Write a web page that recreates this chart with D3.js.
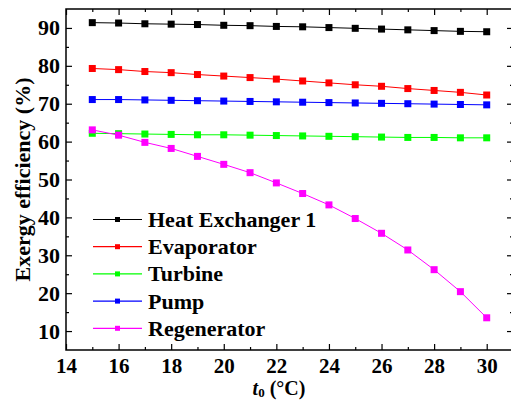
<!DOCTYPE html>
<html>
<head>
<meta charset="utf-8">
<script src="https://cdn.jsdelivr.net/npm/d3@7"></script>
<style>
  body { margin: 0; background: #fff; }
  svg { display: block; overflow: hidden; }
</style>
</head>
<body>
<svg id="chart"></svg>
<script>
// ambient temperature t0 (°C)
const temps = [15, 16, 17, 18, 19, 20, 21, 22, 23, 24, 25, 26, 27, 28, 29, 30];

// exergy efficiency (%) per component
const heatExchanger1 = [91.4, 91.3, 91.1, 91.0, 90.9, 90.7, 90.6, 90.4, 90.3, 90.1, 89.9, 89.7, 89.5, 89.3, 89.1, 89.0];
const evaporator = [79.3, 79.0, 78.5, 78.2, 77.7, 77.3, 76.9, 76.5, 76.0, 75.5, 75.0, 74.6, 74.0, 73.5, 73.0, 72.3];
const turbine = [62.2, 62.1, 62.0, 61.9, 61.8, 61.8, 61.7, 61.6, 61.5, 61.4, 61.3, 61.2, 61.1, 61.1, 61.0, 61.0];
const pump = [71.1, 71.1, 71.0, 70.9, 70.8, 70.7, 70.6, 70.5, 70.4, 70.3, 70.2, 70.1, 70.0, 69.9, 69.8, 69.7];
const regenerator = [63.1, 61.7, 59.8, 58.2, 56.1, 54.0, 51.8, 49.1, 46.3, 43.3, 39.7, 35.8, 31.4, 26.2, 20.4, 13.5];

const seriesNames = ['Heat Exchanger 1', 'Evaporator', 'Turbine', 'Pump', 'Regenerator'];
const seriesColors = ['#000000', '#ff0000', '#00ff00', '#0000ff', '#ff00ff'];
const seriesValues = [heatExchanger1, evaporator, turbine, pump, regenerator];

const xMajorTicks = [14, 16, 18, 20, 22, 24, 26, 28, 30];
const xMinorTicks = [15, 17, 19, 21, 23, 25, 27, 29, 31];
const yMajorTicks = [10, 20, 30, 40, 50, 60, 70, 80, 90];
const yMinorTicks = [15, 25, 35, 45, 55, 65, 75, 85];

const fontFamily = '"Liberation Serif", "Times New Roman", serif';

const config = {
  containerWidth: 511,
  containerHeight: 400,
  margin: {top: 9, right: -2, bottom: 50, left: 66}
};

const width = config.containerWidth - config.margin.left - config.margin.right;
const height = config.containerHeight - config.margin.top - config.margin.bottom;

const svg = d3.select('#chart')
    .attr('width', config.containerWidth)
    .attr('height', config.containerHeight)
    .attr('font-family', fontFamily);

const chart = svg.append('g')
    .attr('transform', `translate(${config.margin.left},${config.margin.top})`);

const xScale = d3.scaleLinear()
    .domain([14, 31])
    .range([0, width]);

const yScale = d3.scaleLinear()
    .domain([5, 95])
    .range([height, 0]);

// Axes: ticks point inward on all four sides
const styleAxis = (g, size = 22) => {
  g.attr('font-family', fontFamily);
  g.select('.domain').remove();
  g.selectAll('line').attr('stroke', '#000').attr('stroke-width', 1.2);
  g.selectAll('text')
      .attr('fill', '#000')
      .attr('font-size', size)
      .attr('font-weight', 'bold');
};

chart.append('g')
    .attr('transform', `translate(0,${height})`)
    .call(d3.axisBottom(xScale).tickValues(xMajorTicks).tickSizeInner(-6).tickSizeOuter(0).tickPadding(8).tickFormat(d3.format('d')))
    .call(styleAxis, 21);
chart.append('g')
    .attr('transform', `translate(0,${height})`)
    .call(d3.axisBottom(xScale).tickValues(xMinorTicks).tickSizeInner(-3).tickSizeOuter(0).tickFormat(''))
    .call(styleAxis);
chart.append('g')
    .call(d3.axisTop(xScale).tickValues(xMajorTicks).tickSizeInner(-6).tickSizeOuter(0).tickFormat(''))
    .call(styleAxis);
chart.append('g')
    .call(d3.axisTop(xScale).tickValues(xMinorTicks).tickSizeInner(-3).tickSizeOuter(0).tickFormat(''))
    .call(styleAxis);

chart.append('g')
    .call(d3.axisLeft(yScale).tickValues(yMajorTicks).tickSizeInner(-6).tickSizeOuter(0).tickPadding(6).tickFormat(d3.format('d')))
    .call(styleAxis);
chart.append('g')
    .call(d3.axisLeft(yScale).tickValues(yMinorTicks).tickSizeInner(-3).tickSizeOuter(0).tickFormat(''))
    .call(styleAxis);
chart.append('g')
    .attr('transform', `translate(${width},0)`)
    .call(d3.axisRight(yScale).tickValues(yMajorTicks).tickSizeInner(-6).tickSizeOuter(0).tickFormat(''))
    .call(styleAxis);
chart.append('g')
    .attr('transform', `translate(${width},0)`)
    .call(d3.axisRight(yScale).tickValues(yMinorTicks).tickSizeInner(-3).tickSizeOuter(0).tickFormat(''))
    .call(styleAxis);

// Frame
chart.append('rect')
    .attr('width', width)
    .attr('height', height)
    .attr('fill', 'none')
    .attr('stroke', '#000')
    .attr('stroke-width', 1.5);

// Lines and square markers
const line = d3.line()
    .x((d, i) => xScale(temps[i]))
    .y(d => yScale(d));

const marks = chart.append('g');
seriesValues.forEach((values, s) => {
  const g = marks.append('g');
  g.append('path')
      .attr('d', line(values))
      .attr('fill', 'none')
      .attr('stroke', seriesColors[s])
      .attr('stroke-width', 1);
  g.selectAll('rect')
      .data(values)
      .join('rect')
      .attr('x', (d, i) => xScale(temps[i]) - 3.5)
      .attr('y', d => yScale(d) - 3.5)
      .attr('width', 7)
      .attr('height', 7)
      .attr('fill', seriesColors[s]);
});

// Legend
const legend = svg.append('g')
    .attr('transform', 'translate(93,219.5)');
seriesNames.forEach((name, s) => {
  const row = legend.append('g')
      .attr('transform', `translate(0,${s * 27.2})`);
  row.append('line')
      .attr('x1', 0)
      .attr('x2', 49)
      .attr('stroke', seriesColors[s])
      .attr('stroke-width', 1.2);
  row.append('rect')
      .attr('x', 24.5 - 2.5)
      .attr('y', -2.5)
      .attr('width', 5)
      .attr('height', 5)
      .attr('fill', seriesColors[s]);
  row.append('text')
      .attr('x', 55)
      .attr('y', 7.5)
      .attr('font-size', 22)
      .attr('font-weight', 'bold')
      .attr('fill', '#000')
      .text(name);
});

// Axis titles
svg.append('text')
    .attr('transform', `translate(29.5,${config.margin.top + height / 2}) rotate(-90)`)
    .attr('text-anchor', 'middle')
    .attr('font-size', 22)
    .attr('font-weight', 'bold')
    .text('Exergy efficiency (%)');

const xTitle = svg.append('text')
    .attr('x', 279)
    .attr('y', 394.5)
    .attr('text-anchor', 'middle')
    .attr('font-size', 20)
    .attr('font-weight', 'bold');
xTitle.append('tspan').attr('font-style', 'italic').text('t');
xTitle.append('tspan').attr('font-size', 13).attr('dy', 2.5).text('0');
xTitle.append('tspan').attr('dy', -2.5).text(' (°C)');
</script>
</body>
</html>
